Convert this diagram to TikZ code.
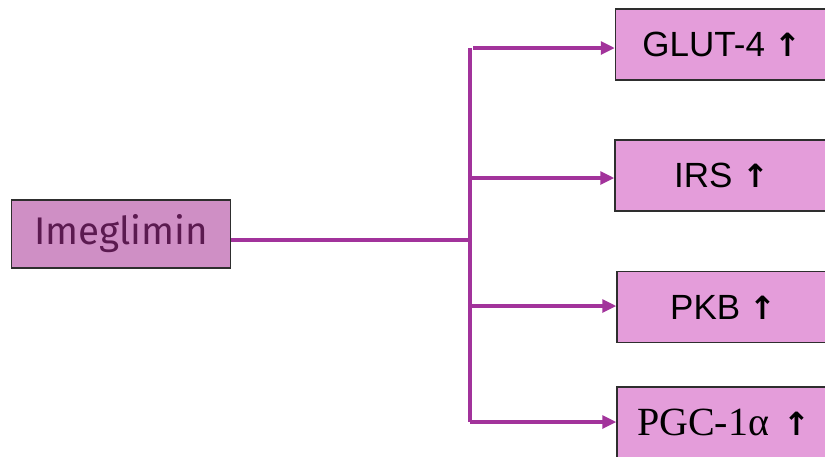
\documentclass[tikz,border=0pt]{standalone}
\usepackage{fontspec}
\setmainfont{Liberation Sans}
\newfontfamily\imegfont{Fira Sans}
\newfontfamily\greekserif{Liberation Serif}
\newfontfamily\arrowfont{DejaVu Sans}[BoldFont={DejaVu Sans Bold}]
\usetikzlibrary{arrows.meta}
\definecolor{linkpurple}{HTML}{A2339B}
\definecolor{srcfill}{HTML}{CF8FC5}
\definecolor{tgtfill}{HTML}{E49DDA}
\definecolor{srctext}{HTML}{5B1A50}
\definecolor{boxedge}{HTML}{2E2E2E}
\newcommand{\upmark}{{\arrowfont\bfseries\fontsize{32}{36}\selectfont ↑}}
\begin{document}
\begin{tikzpicture}[x=1pt,y=-1pt,
  srcbox/.style={draw=boxedge, line width=1.5pt, fill=srcfill, text=srctext,
    minimum width=219pt, minimum height=68pt, inner sep=0pt,
    font=\imegfont\fontsize{38.5}{42}\selectfont},
  tgtbox/.style={draw=boxedge, line width=1.5pt, fill=tgtfill,
    minimum width=213pt, minimum height=71pt, inner sep=0pt,
    font=\fontsize{35}{40}\selectfont},
  link/.style={draw=linkpurple, line width=3.2pt, line join=round},
  arrowlink/.style={link, -{Triangle[length=14pt,width=13pt]}}]
\useasboundingbox (0,0) rectangle (825,456);
\clip (0,0) rectangle (825,456);

% source and target boxes
\node[srcbox] (ime) at (121,234) {Imeglimin};
\node[tgtbox] (glut) at (722,44.5) {GLUT-4 \upmark};
\node[tgtbox] (irs)  at (721.5,175.5) {IRS \upmark};
\node[tgtbox] (pkb)  at (723.5,307) {PKB \upmark};
\node[tgtbox] (pgc)  at (723.5,422.5) {{\greekserif\fontsize{40}{42}\selectfont PGC-1α}\hspace{14pt}\upmark};

% branching points on the trunk
\coordinate (hub) at (470,240);
\coordinate (b1) at (470,48);
\coordinate (b2) at (470,178);
\coordinate (b3) at (470,306);
\coordinate (b4) at (470,422);

% trunk and feeder
\draw[link] (ime.east |- hub) -- (hub);
\draw[link] (b1) -- (b4);

% branches
\draw[arrowlink] ([xshift=3pt]b1) -- (b1 -| glut.west);
\draw[arrowlink] (b2) -- (b2 -| irs.west);
\draw[arrowlink] (b3) -- (b3 -| pkb.west);
\draw[arrowlink] (b4) -- (b4 -| pgc.west);
\end{tikzpicture}
\end{document}
